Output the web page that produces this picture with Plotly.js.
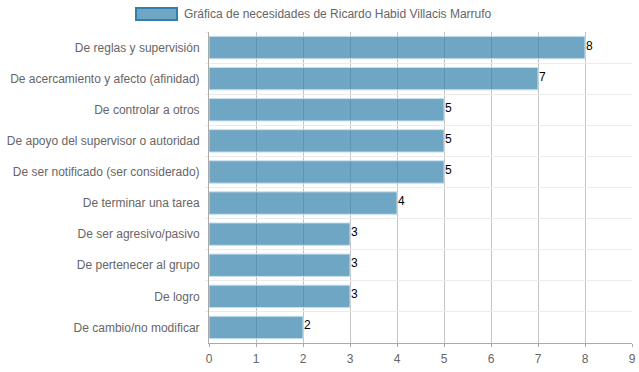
<!DOCTYPE html>
<html>
<head>
<meta charset="utf-8">
<script src="https://cdn.plot.ly/plotly-3.0.1.min.js"></script>
<style>html,body{margin:0;padding:0;background:#fff;}#chart{width:639px;height:372px;}</style>
</head>
<body>
<div id="chart"></div>
<script>
const seriesName = "Gráfica de necesidades de Ricardo Habid Villacis Marrufo";
const categories = [
  "De reglas y supervisión",
  "De acercamiento y afecto (afinidad)",
  "De controlar a otros",
  "De apoyo del supervisor o autoridad",
  "De ser notificado (ser considerado)",
  "De terminar una tarea",
  "De ser agresivo/pasivo",
  "De pertenecer al grupo",
  "De logro",
  "De cambio/no modificar"
];
const values = [8, 7, 5, 5, 5, 4, 3, 3, 3, 2];
const xTicks = [0, 1, 2, 3, 4, 5, 6, 7, 8, 9];

const W = 639, H = 372;
const m = {l: 209, r: 7, t: 32, b: 29};
const pw = W - m.l - m.r, ph = H - m.t - m.b;
const px = x => (x - m.l) / pw;
const py = y => (H - m.b - y) / ph;

const font = {family: "Liberation Sans, Arial, sans-serif", size: 12, color: "#666"};

const trace = {
  type: "bar",
  orientation: "h",
  y: categories,
  x: values,
  name: seriesName,
  marker: {color: "rgba(48,128,171,0.7)", line: {color: "rgba(200,224,238,1)", width: 1}},
  showlegend: false,
  hoverinfo: "none"
};

const valueLabels = values.map((v, i) => ({
  xref: "x", yref: "y", x: v, y: categories[i],
  xanchor: "left", yanchor: "middle", xshift: -1, yshift: 2,
  text: String(v), showarrow: false,
  font: {family: "Liberation Sans, Arial, sans-serif", size: 12, color: "#000"}
}));

const layout = {
  width: W, height: H,
  margin: m,
  paper_bgcolor: "#fff", plot_bgcolor: "#fff",
  font: font,
  bargap: 0.28,
  showlegend: false,
  xaxis: {
    range: [0, 9], tickvals: xTicks, ticktext: xTicks.map(String),
    showgrid: true, gridcolor: "#c4c4c4", gridwidth: 1,
    zeroline: false, showline: true, linecolor: "#aaa", linewidth: 1,
    ticks: "outside", ticklen: 3, tickcolor: "#aaa",
    ticklabelstandoff: 2,
    tickfont: font, fixedrange: true
  },
  yaxis: {
    type: "category", autorange: "reversed",
    tickson: "boundaries",
    showgrid: true, gridcolor: "#ebebeb", gridwidth: 1,
    zeroline: false, showline: true, linecolor: "#aaa", linewidth: 1,
    ticks: "outside", ticklen: 3, tickcolor: "#ebebeb",
    ticklabelstandoff: 6,
    tickfont: font, fixedrange: true
  },
  shapes: [{
    type: "rect", xref: "paper", yref: "paper",
    x0: px(136), x1: px(177), y0: py(20), y1: py(8),
    fillcolor: "rgba(48,128,171,0.7)",
    line: {color: "rgb(48,128,171)", width: 2}
  }],
  annotations: [{
    xref: "paper", yref: "paper",
    x: px(182), y: py(14), xanchor: "left", yanchor: "middle",
    text: seriesName, showarrow: false, font: font
  }].concat(valueLabels)
};

Plotly.newPlot("chart", [trace], layout, {displayModeBar: false, staticPlot: true});
</script>
</body>
</html>
